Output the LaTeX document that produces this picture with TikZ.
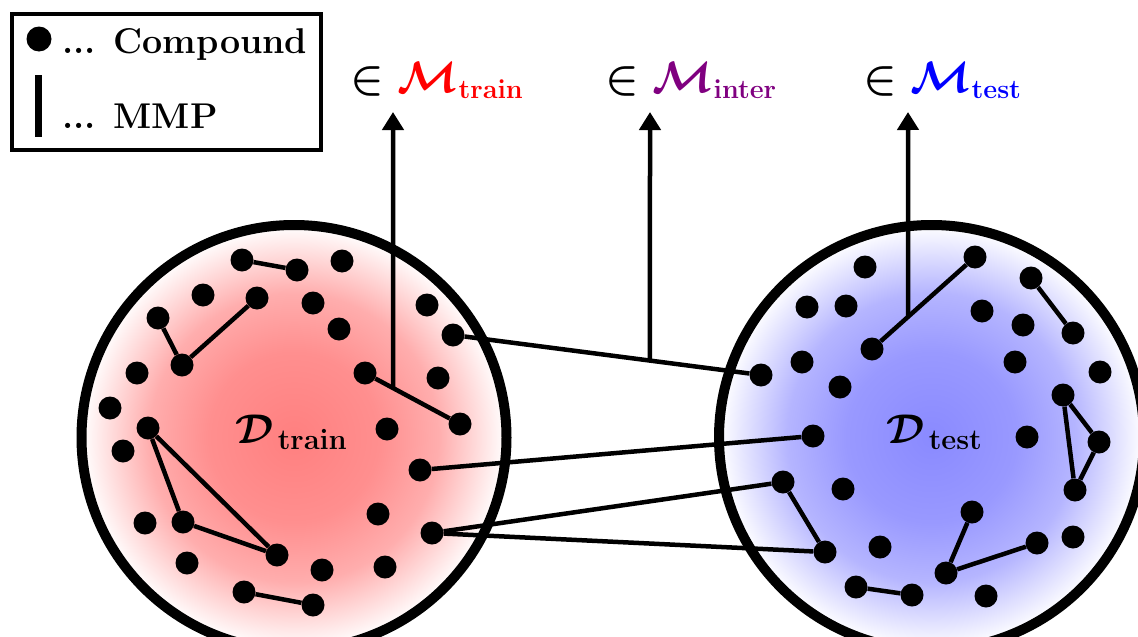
\RequirePackage{fix-cm}
\documentclass[tikz,border=0pt]{standalone}
\usepackage{amsmath}
\usepackage{amssymb}
\usepackage{tikz}
\usetikzlibrary{arrows.meta}

\DeclareMathSizes{41.5}{41.5}{29}{20}
\DeclareMathSizes{44}{44}{27}{20}
\definecolor{roxo}{RGB}{128,0,128}
\pgfdeclareradialshading{fundotreino}{\pgfpoint{0bp}{0bp}}{color(0bp)=(red!50); color(10bp)=(red!44); color(17bp)=(red!32); color(25bp)=(white); color(50bp)=(white)}
\pgfdeclareradialshading{fundoteste}{\pgfpoint{0bp}{0bp}}{color(0bp)=(blue!46); color(10bp)=(blue!40); color(17bp)=(blue!29); color(25bp)=(white); color(50bp)=(white)}

\begin{document}
\begin{tikzpicture}[x=1pt, y=-1pt,
    ponto/.style={circle, fill=black, inner sep=0pt, minimum size=23pt},
    ligacao/.style={line width=4.5pt},
    seta/.style={line width=4.5pt, -{Triangle[length=18pt, width=21pt]}},
    conjunto/.style={line width=10pt},
    rotulo/.style={inner sep=0pt, anchor=base west, font=\fontsize{44}{52}\selectfont\boldmath},
    nomeconj/.style={inner sep=0pt, anchor=base west, font=\fontsize{41.5}{48}\selectfont\boldmath},
    legenda/.style={inner sep=0pt, anchor=base west, font=\fontsize{35.8}{43}\selectfont\bfseries}]
  \useasboundingbox (0,0) rectangle (1138,637);
  % Conjuntos de dados
  \shadedraw[conjunto, shading=fundotreino] (294,437.5) circle[radius=212.5pt];
  \shadedraw[conjunto, shading=fundoteste] (931.5,437.5) circle[radius=212.5pt];
  \node[nomeconj] (dtrain) at (235,443) {$\mathcal{D}_{\,\mathrm{train}}$};
  \node[nomeconj] (dtest) at (886,443) {$\mathcal{D}_{\,\mathrm{test}}$};
  % Compostos (treino)
  \node[ponto] (l1) at (242,260) {};
  \node[ponto] (l2) at (297,270) {};
  \node[ponto] (l3) at (342,261) {};
  \node[ponto] (l4) at (203,295) {};
  \node[ponto] (l5) at (257,298) {};
  \node[ponto] (l6) at (313,303) {};
  \node[ponto] (l7) at (158,318) {};
  \node[ponto] (l8) at (339,329) {};
  \node[ponto] (l9) at (427,305) {};
  \node[ponto] (l10) at (453,335) {};
  \node[ponto] (l11) at (182,365) {};
  \node[ponto] (l12) at (137,373) {};
  \node[ponto] (l13) at (365,373) {};
  \node[ponto] (l14) at (438,378) {};
  \node[ponto] (l15) at (110,408) {};
  \node[ponto] (l16) at (148,428) {};
  \node[ponto] (l17) at (460,424) {};
  \node[ponto] (l18) at (387,429) {};
  \node[ponto] (l19) at (123,451) {};
  \node[ponto] (l20) at (420,470) {};
  \node[ponto] (l21) at (145,523) {};
  \node[ponto] (l22) at (183,522) {};
  \node[ponto] (l23) at (378,514) {};
  \node[ponto] (l24) at (432,533) {};
  \node[ponto] (l25) at (277,555) {};
  \node[ponto] (l26) at (187,563) {};
  \node[ponto] (l27) at (322,570) {};
  \node[ponto] (l28) at (385,567) {};
  \node[ponto] (l29) at (244,592) {};
  \node[ponto] (l30) at (313,605) {};
  % Compostos (teste)
  \node[ponto] (r1) at (865,267) {};
  \node[ponto] (r2) at (975,257) {};
  \node[ponto] (r3) at (1031,278) {};
  \node[ponto] (r4) at (807,307) {};
  \node[ponto] (r5) at (846,306) {};
  \node[ponto] (r6) at (982,311) {};
  \node[ponto] (r7) at (1023,325) {};
  \node[ponto] (r8) at (1073,333) {};
  \node[ponto] (r9) at (872,349) {};
  \node[ponto] (r10) at (802,362) {};
  \node[ponto] (r11) at (1015,362) {};
  \node[ponto] (r12) at (761,375) {};
  \node[ponto] (r13) at (1100,372) {};
  \node[ponto] (r14) at (840,387) {};
  \node[ponto] (r15) at (1063,395) {};
  \node[ponto] (r16) at (813,436) {};
  \node[ponto] (r17) at (1027,437) {};
  \node[ponto] (r18) at (1099,442) {};
  \node[ponto] (r19) at (1075,490) {};
  \node[ponto] (r20) at (843,489) {};
  \node[ponto] (r21) at (783,482) {};
  \node[ponto] (r22) at (972,512) {};
  \node[ponto] (r23) at (1073,537) {};
  \node[ponto] (r24) at (1037,543) {};
  \node[ponto] (r25) at (880,547) {};
  \node[ponto] (r26) at (825,552) {};
  \node[ponto] (r27) at (946,573) {};
  \node[ponto] (r28) at (856,587) {};
  \node[ponto] (r29) at (912,595) {};
  \node[ponto] (r30) at (986,596) {};
  % MMPs dentro de cada conjunto
  \draw[ligacao] (l1) -- (l2);
  \draw[ligacao] (l7) -- (l11) -- (l5);
  \draw[ligacao] (l16) -- (l22) -- (l25) -- (l16);
  \draw[ligacao] (l13) -- (l17);
  \draw[ligacao] (l29) -- (l30);
  \draw[ligacao] (r9) -- (r2);
  \draw[ligacao] (r3) -- (r8);
  \draw[ligacao] (r15) -- (r18) -- (r19) -- (r15);
  \draw[ligacao] (r21) -- (r26);
  \draw[ligacao] (r22) -- (r27) -- (r24);
  \draw[ligacao] (r28) -- (r29);
  % MMPs entre conjuntos
  \draw[ligacao] (l10) -- (r12);
  \draw[ligacao] (l20) -- (r16);
  \draw[ligacao] (l24) -- (r21);
  \draw[ligacao] (l24) -- (r26);
  % Setas para as classes
  \coordinate (ptrain) at (393,112);
  \coordinate (qtrain) at (393,500);
  \coordinate (pinter) at (650,112);
  \coordinate (qinter) at (650,500);
  \coordinate (ptest) at (908,112);
  \coordinate (qtest) at (908,500);
  \draw[seta] (intersection of l13--l17 and ptrain--qtrain) -- (ptrain);
  \draw[seta] (intersection of l10--r12 and pinter--qinter) -- (pinter);
  \draw[seta] (intersection of r9--r2 and ptest--qtest) -- (ptest);
  \node[rotulo] (mtrain) at (350,92) {$\in \textcolor{red}{\mathcal{M}_{\mathrm{train}}}$};
  \node[rotulo] (minter) at (605,92) {$\in \textcolor{roxo}{\mathcal{M}_{\mathrm{inter}}}$};
  \node[rotulo] (mtest) at (863,92) {$\in \textcolor{blue}{\mathcal{M}_{\mathrm{test}}}$};
  % Legenda
  \draw[line width=4pt] (12,14) rectangle (321,150);
  \node[ponto, minimum size=25pt] (legponto) at (39,39) {};
  \coordinate (legtopo) at (38.5,75);
  \coordinate (legbase) at (38.5,137);
  \draw[line width=7pt] (legtopo) -- (legbase);
  \node[legenda] (legcomp) at (62,53) {... Compound};
  \node[legenda] (legmmp) at (62,128) {... MMP};
\end{tikzpicture}
\end{document}
